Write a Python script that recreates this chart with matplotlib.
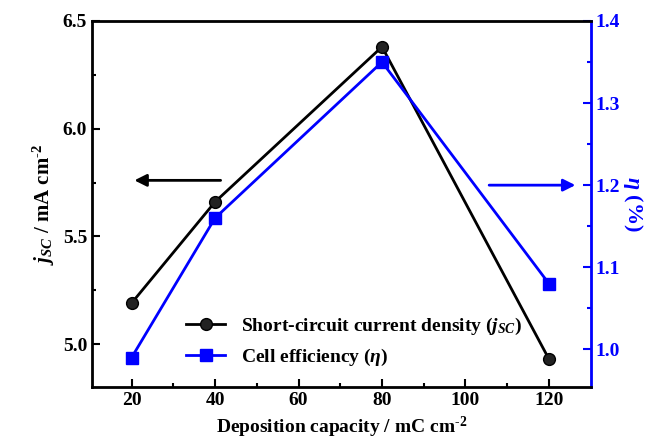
import matplotlib
matplotlib.use('Agg')
import matplotlib.pyplot as plt

plt.rcParams['font.family'] = 'Liberation Serif'
plt.rcParams['font.weight'] = 'bold'
plt.rcParams['mathtext.fontset'] = 'custom'
plt.rcParams['mathtext.rm'] = 'Liberation Serif:bold'
plt.rcParams['mathtext.it'] = 'Liberation Serif:bold:italic'
plt.rcParams['mathtext.bf'] = 'Liberation Serif:bold'

capacity = [20, 40, 80, 120]
jsc = [5.19, 5.66, 6.38, 4.93]
eta = [0.99, 1.16, 1.35, 1.08]

fig, ax = plt.subplots(figsize=(6.52, 4.46), dpi=100)
fig.subplots_adjust(left=0.141, right=0.906, top=0.953, bottom=0.132)
ax2 = ax.twinx()

l1, = ax.plot(capacity, jsc, '-o', color='black', lw=2, ms=8.5,
              mfc='#222222', mec='black', label=r'Short-circuit current density ($j_{SC}$)')
l2, = ax2.plot(capacity, eta, '-s', color='blue', lw=2, ms=8,
               label=r'Cell efficiency ($\eta$)')

ax.set_xlim(10.5, 130)
ax.set_ylim(4.8, 6.5)
ax2.set_ylim(0.954, 1.4)
ax.set_xticks([20, 40, 60, 80, 100, 120])
ax.set_xticks(range(30, 130, 20), minor=True)
ax.set_yticks([5.0, 5.5, 6.0, 6.5])
ax.set_yticks([5.25, 5.75, 6.25], minor=True)
ax2.set_yticks([1.0, 1.1, 1.2, 1.3, 1.4])
ax2.set_yticks([1.05, 1.15, 1.25, 1.35], minor=True)

ax.tick_params(which='both', direction='in', labelsize=14, width=1.5, top=False)
ax.tick_params(which='major', length=6)
ax.tick_params(which='minor', length=3)
ax2.tick_params(which='both', direction='in', colors='blue', labelsize=14, width=1.5)
ax2.tick_params(which='major', length=6)
ax2.tick_params(which='minor', length=3)

for s in ['left', 'top', 'bottom']:
    ax2.spines[s].set_linewidth(2)
ax2.spines['right'].set_color('blue')
ax2.spines['right'].set_linewidth(2)

ax.set_xlabel(r'Deposition capacity / mC cm$^{\text{-2}}$', fontsize=14, fontweight='bold')
ax.set_ylabel(r'$j_{SC}$ / mA cm$^{\text{-2}}$', fontsize=15, fontweight='bold')
ax2.set_ylabel(r'$\eta$ (%)', fontsize=16, fontweight='bold', color='blue',
               rotation=270, labelpad=18)

ax.annotate('', xy=(20, 5.76), xytext=(42, 5.76),
            arrowprops=dict(arrowstyle='-|>', color='black', lw=2, mutation_scale=18))
ax2.annotate('', xy=(127, 1.2), xytext=(105, 1.2),
             arrowprops=dict(arrowstyle='-|>', color='blue', lw=2, mutation_scale=18))

ax.legend(handles=[l1, l2], loc='lower left', bbox_to_anchor=(0.15, 0.0),
          frameon=False, fontsize=14, handlelength=2, borderaxespad=0.6)

fig.savefig('out.png', dpi=100)
